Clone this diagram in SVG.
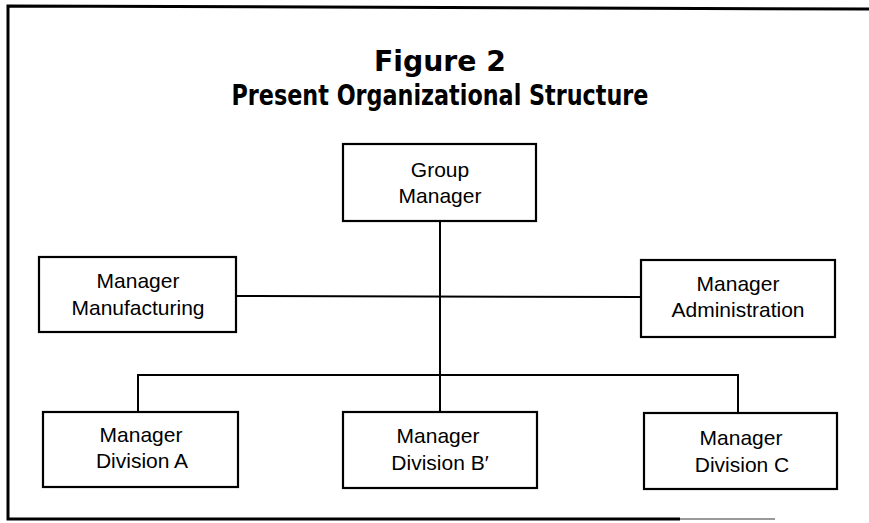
<svg xmlns="http://www.w3.org/2000/svg" width="869" height="523" viewBox="0 0 869 523">
<style>
.box{fill:#fff;stroke:#000;stroke-width:2.2}
.lbl{font-family:"Liberation Sans",Arial,sans-serif;font-size:21px;fill:#000;text-anchor:middle}
.ttl{font-family:"DejaVu Sans Condensed","Liberation Sans",Arial,sans-serif;font-stretch:condensed;font-weight:bold;font-size:29px;fill:#000;text-anchor:middle}
.ln{stroke:#000;stroke-width:2;fill:none}
.frame{stroke:#000;stroke-width:3;fill:none}
</style>
<rect width="869" height="523" fill="#fff"/>
<g id="frame">
<polyline class="frame" points="869,9 8,6 8,519 680,519"/>
<line x1="680" y1="519" x2="775" y2="519" stroke="#999" stroke-width="2"/>
</g>
<g id="title">
<text class="ttl" x="440" y="71" textLength="132" lengthAdjust="spacingAndGlyphs">Figure 2</text>
<text class="ttl" x="440" y="105" textLength="417" lengthAdjust="spacingAndGlyphs">Present Organizational Structure</text>
</g>
<g id="connectors">
<line class="ln" x1="440" y1="221" x2="440" y2="412"/>
<line class="ln" x1="236" y1="296" x2="641" y2="297"/>
<polyline class="ln" points="138,412 138,375 738,375 738,413"/>
</g>
<g id="group-manager">
<rect class="box" x="343" y="144" width="193" height="77"/>
<text class="lbl" x="440" y="177">Group</text>
<text class="lbl" x="440" y="203">Manager</text>
</g>
<g id="manager-manufacturing">
<rect class="box" x="39" y="257" width="197" height="75"/>
<text class="lbl" x="138" y="288">Manager</text>
<text class="lbl" x="138" y="315">Manufacturing</text>
</g>
<g id="manager-administration">
<rect class="box" x="641" y="260" width="194" height="77"/>
<text class="lbl" x="738" y="291">Manager</text>
<text class="lbl" x="738" y="317">Administration</text>
</g>
<g id="manager-division-a">
<rect class="box" x="43" y="412" width="195" height="75"/>
<text class="lbl" x="141" y="442">Manager</text>
<text class="lbl" x="142" y="468">Division A</text>
</g>
<g id="manager-division-b">
<rect class="box" x="343" y="412" width="194" height="76"/>
<text class="lbl" x="438" y="443">Manager</text>
<text class="lbl" x="440" y="470">Division B′</text>
</g>
<g id="manager-division-c">
<rect class="box" x="644" y="413" width="193" height="76"/>
<text class="lbl" x="741" y="445">Manager</text>
<text class="lbl" x="742" y="472">Division C</text>
</g>
</svg>
